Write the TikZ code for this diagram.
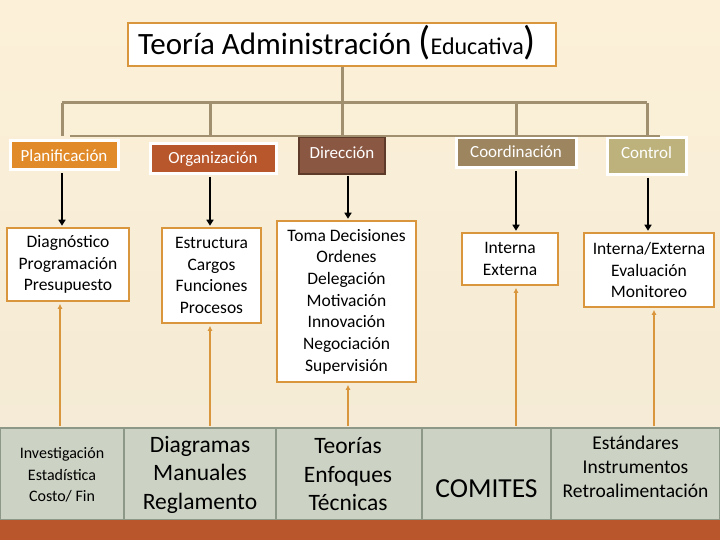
\documentclass[tikz,border=0pt]{standalone}
\usepackage{fontspec}
\setmainfont{Carlito}
\usetikzlibrary{arrows.meta,calc}
\definecolor{bgtop}{HTML}{FCF0D8}
\definecolor{bgbot}{HTML}{F3EAD5}
\definecolor{treeline}{HTML}{A09070}
\definecolor{orangeline}{HTML}{DA963C}
\definecolor{cplan}{HTML}{E08A2A}
\definecolor{corg}{HTML}{B8562C}
\definecolor{cdir}{HTML}{8A5742}
\definecolor{cdirb}{HTML}{5E3A2A}
\definecolor{ccoord}{HTML}{9D8560}
\definecolor{cctrl}{HTML}{BDB27C}
\definecolor{cgray}{HTML}{CCD2C4}
\definecolor{cgrayb}{HTML}{8E9888}
\definecolor{cband}{HTML}{B9562C}
\begin{document}
\begin{tikzpicture}[x=1pt,y=-1pt,
  tree/.style={draw=treeline, line width=3pt},
  thintree/.style={draw=treeline, line width=1.5pt},
  topbox/.style={draw=white, line width=3pt, inner sep=0pt},
  toplabel/.style={text=white, inner sep=0pt, font=\fontsize{17}{20}\selectfont},
  midbox/.style={draw=orangeline, line width=2.5pt, fill=white, inner sep=0pt, align=center,
    font=\fontsize{17.5}{21.7}\selectfont},
  botbox/.style={draw=cgrayb, line width=2pt, fill=cgray, inner sep=0pt, minimum height=92pt},
  downarrow/.style={draw=black, line width=2.5pt, -{Triangle[length=6pt,width=7pt]}},
  uparrow/.style={draw=orangeline, line width=2pt, -{Latex[length=5pt,width=5pt]}}
]
\useasboundingbox (0,0) rectangle (720,540);
\shade[top color=bgtop, bottom color=bgbot] (0,0) rectangle (720,540);

% title
\node[draw=orangeline, line width=2pt, fill=white, minimum width=428pt, minimum height=43pt, inner sep=0pt]
  (title) at (342,44.5) {};
\node[inner sep=0pt, anchor=base] (titletext) at (337,55)
  {\fontsize{31}{31}\selectfont Teoría Administración {\fontsize{40}{40}\selectfont(}{\fontsize{24}{24}\selectfont Educativa}{\fontsize{40}{40}\selectfont)}};

% top row
\node[topbox, fill=cplan, minimum width=108pt, minimum height=29pt] (plan) at (64,155.5) {};
\node[toplabel] (plant) at (plan.center) {Planificación};
\node[topbox, fill=corg, minimum width=126pt, minimum height=30pt] (org) at (213,159) {};
\node[toplabel] (orgt) at (org.center) {Organización};
\node[topbox, draw=cdirb, line width=2pt, fill=cdir, minimum width=86pt, minimum height=37pt] (dir) at (342,155.5) {};
\node[toplabel] (dirt) at ($(dir.center)+(0,-3)$) {Dirección};
\node[topbox, fill=ccoord, minimum width=120pt, minimum height=30pt] (coord) at (516,153) {};
\node[toplabel] (coordt) at ($(coord.center)+(0,-1)$) {Coordinación};
\node[topbox, fill=cctrl, minimum width=79pt, minimum height=37pt] (ctrl) at (646.5,156.5) {};
\node[toplabel] (ctrlt) at ($(ctrl.center)+(0,-4)$) {Control};

% tree lines
\coordinate (hub) at (342,103);
\coordinate (hl) at (62,103);
\coordinate (hr) at (647,103);
\coordinate (tl) at (70,136);
\coordinate (tr) at (660,136);
\draw[tree] (title.south) -- (hub);
\draw[tree] (hl) -- (hr);
\draw[tree] (hl) -- (hl |- tl);
\draw[tree] (210,103) coordinate (ov) -- (ov |- tl);
\draw[tree] (hub) -- (dir.north);
\draw[tree] (coord.north |- hub) -- (coord.north);
\draw[tree] (hr) -- (hr |- tl);
\draw[thintree] (tl) -- (tr);

% middle row
\node[midbox, minimum width=122pt, minimum height=73pt] (diag) at (68,264.5)
  {Diagnóstico\\Programación\\Presupuesto};
\node[midbox, minimum width=99pt, minimum height=95pt] (estr) at (211.5,275.5)
  {Estructura\\Cargos\\Funciones\\Procesos};
\node[midbox, minimum width=139pt, minimum height=161pt] (toma) at (346.5,301.5)
  {Toma Decisiones\\Ordenes\\Delegación\\Motivación\\Innovación\\Negociación\\Supervisión};
\node[midbox, minimum width=96pt, minimum height=52pt] (intern) at (510,259)
  {Interna\\Externa};
\node[midbox, minimum width=130pt, minimum height=74pt] (intext) at (649,270)
  {Interna/Externa\\Evaluación\\Monitoreo};

% down arrows
\draw[downarrow] ($(plan.south)+(-2,1.5)$) -- ($(plan.south |- diag.north)+(-2,-1)$);
\draw[downarrow] ($(org.south)+(-3,1.5)$) -- ($(org.south |- estr.north)+(-3,-1)$);
\draw[downarrow] (dir.south -| toma.north) ++(1.5,1) -- ($(toma.north)+(1.5,-1)$);
\draw[downarrow] ($(coord.south)+(0,1.5)$) -- ($(coord.south |- intern.north)+(0,-1)$);
\draw[downarrow] ($(ctrl.south)+(1.5,1.5)$) -- ($(ctrl.south |- intext.north)+(1.5,-1)$);

% bottom row
\node[botbox, minimum width=124pt] (b1) at (62,474) {};
\node[botbox, minimum width=152pt] (b2) at (200,474) {};
\node[botbox, minimum width=146pt] (b3) at (349,474) {};
\node[botbox, minimum width=129pt] (b4) at (486.5,474) {};
\node[botbox, minimum width=169pt] (b5) at (635.5,474) {};
\node[align=center, inner sep=0pt, font=\fontsize{16}{21.5}\selectfont] (b1t) at (62,475)
  {Investigación\\Estadística\\Costo/ Fin};
\node[align=center, inner sep=0pt, font=\fontsize{23.5}{28.5}\selectfont] (b2t) at (200,474.5)
  {Diagramas\\Manuales\\Reglamento};
\node[align=center, inner sep=0pt, font=\fontsize{23.5}{28.5}\selectfont] (b3t) at (348,474.5)
  {Teorías\\Enfoques\\Técnicas};
\node[inner sep=0pt, font=\fontsize{27.5}{30}\selectfont] (b4t) at (486.5,489) {COMITES};
\node[align=center, inner sep=0pt, font=\fontsize{19.5}{24}\selectfont] (b5t) at (635.5,467)
  {Estándares\\Instrumentos\\Retroalimentación};

% up arrows
\draw[uparrow] ($(b1.north -| diag.south)+(-8,-1)$) -- ($(diag.south)+(-8,1.5)$);
\draw[uparrow] ($(b2.north -| estr.south)+(-1.5,-1)$) -- ($(estr.south)+(-1.5,1.5)$);
\draw[uparrow] ($(b3.north -| toma.south)+(1.5,-1)$) -- ($(toma.south)+(1.5,1.5)$);
\draw[uparrow] ($(b4.north -| coord.south)+(0,-1)$) -- ($(coord.south |- intern.south)+(0,1.5)$);
\draw[uparrow] ($(b5.north -| intext.south)+(5,-1)$) -- ($(intext.south)+(5,1.5)$);

% bottom band
\fill[cband] (0,520) rectangle (720,540);
\end{tikzpicture}
\end{document}
